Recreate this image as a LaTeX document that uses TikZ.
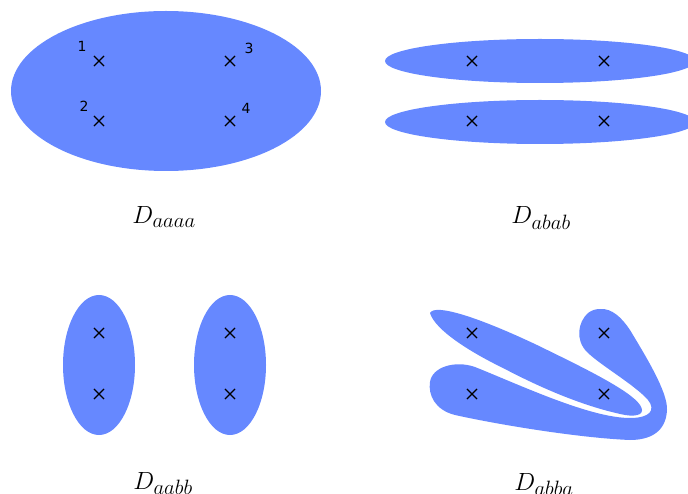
\RequirePackage{fix-cm}
\documentclass[tikz,border=0pt]{standalone}
\usepackage{xcolor}
\usepackage{fontspec}
\newfontfamily\numfont{DejaVu Sans}
\usetikzlibrary{shapes.misc}
\definecolor{regionblue}{HTML}{6688FF}
\tikzset{
  region/.style={fill=regionblue, draw=none},
  pt/.style={cross out, draw=black, line width=1.1pt, minimum size=9pt, inner sep=0pt},
  numlab/.style={font=\numfont\fontsize{14}{16}\selectfont},
  dlab/.style={anchor=base, font=\Huge}
}

\begin{document}
\begin{tikzpicture}[x=1pt,y=-1pt]
    \useasboundingbox (0,0) rectangle (688,494);
    \clip (0,0) rectangle (688,494);

    % D_aaaa
    \fill[region] (166,91) ellipse [x radius=155, y radius=80];
    % D_abab
    \fill[region] (540,61) ellipse [x radius=155, y radius=22];
    \fill[region] (540,122) ellipse [x radius=155, y radius=22];
    % D_aabb
    \fill[region] (99,365) ellipse [x radius=36, y radius=70];
    \fill[region] (230,365) ellipse [x radius=36, y radius=70];
    % D_abba
    \fill[region] (430,313) .. controls (435,303) and (480,318) .. (537,345)
        .. controls (580,366) and (630,390) .. (640,405)
        .. controls (646,414) and (638,417) .. (625,415)
        .. controls (600,410) and (560,398) .. (503,368)
        .. controls (470,352) and (435,330) .. (430,313) -- cycle;
    \fill[region] (600,309) .. controls (612,308) and (622,318) .. (630,330)
        .. controls (645,355) and (668,392) .. (667,410)
        .. controls (666,432) and (650,440) .. (630,440)
        .. controls (580,438) and (500,425) .. (455,415)
        .. controls (435,410) and (428,395) .. (430,382)
        .. controls (432,367) and (455,360) .. (475,367)
        .. controls (520,385) and (590,418) .. (630,418)
        .. controls (650,418) and (656,410) .. (648,400)
        .. controls (635,385) and (600,365) .. (587,352)
        .. controls (575,340) and (578,322) .. (588,313)
        .. controls (592,310) and (596,309) .. (600,309) -- cycle;

    % marked points
    \node[pt] (a1) at (99,61) {};
    \node[pt] (a2) at (99,121) {};
    \node[pt] (a3) at (230,61) {};
    \node[pt] (a4) at (230,121) {};
    \node[pt] (b1) at (472,61) {};
    \node[pt] (b2) at (472,121) {};
    \node[pt] (b3) at (604,61) {};
    \node[pt] (b4) at (604,121) {};
    \node[pt] (c1) at (99,333) {};
    \node[pt] (c2) at (99,394) {};
    \node[pt] (c3) at (230,333) {};
    \node[pt] (c4) at (230,394) {};
    \node[pt] (d1) at (472,333) {};
    \node[pt] (d2) at (472,394) {};
    \node[pt] (d3) at (604,333) {};
    \node[pt] (d4) at (604,394) {};

    % numbering
    \node[numlab] (n1) at (82,46) {1};
    \node[numlab] (n2) at (84,106) {2};
    \node[numlab] (n3) at (249,48) {3};
    \node[numlab] (n4) at (246,108) {4};

    % names
    \node[dlab] (aaaa) at (164,224) {$D_{aaaa}$};
    \node[dlab] (abab) at (541,224) {$D_{abab}$};
    \node[dlab] (aabb) at (163,489) {$D_{aabb}$};
    \node[dlab] (abba) at (544,490) {$D_{abba}$};

\end{tikzpicture}
\end{document}
